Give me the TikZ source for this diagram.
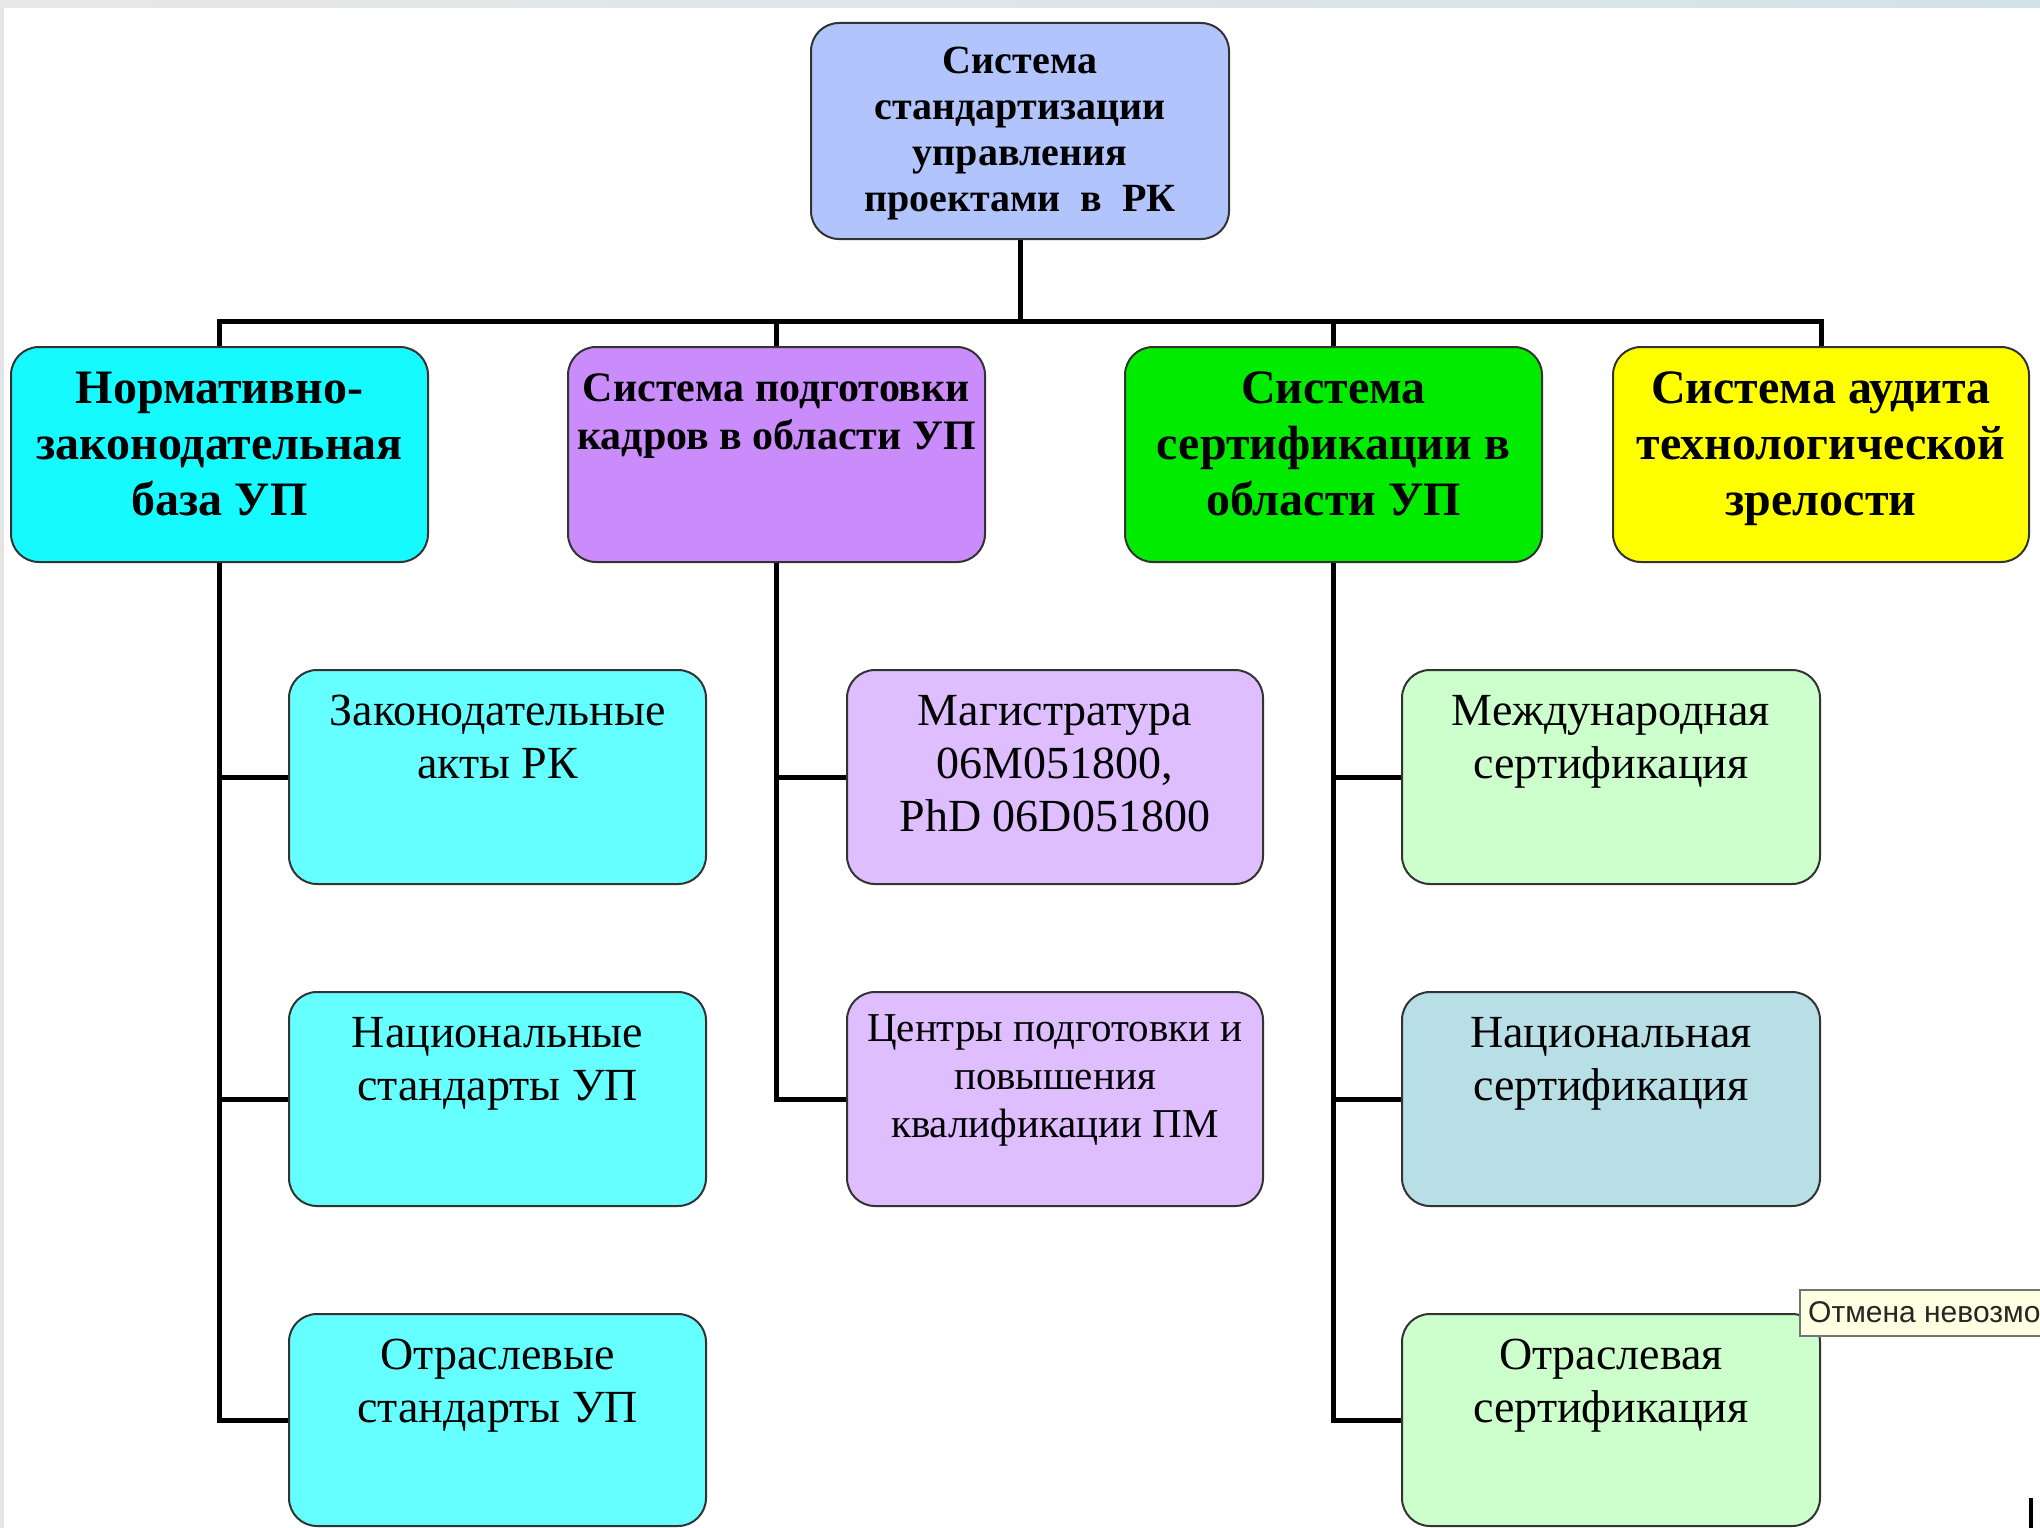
\documentclass[tikz,border=0pt]{standalone}
\usepackage{fontspec}
\setmainfont{Liberation Serif}
\newfontfamily\tipfont{Liberation Sans}
\definecolor{topc}{RGB}{178,196,252}
\definecolor{ac}{RGB}{20,250,255}
\definecolor{bc}{RGB}{202,140,250}
\definecolor{cc}{RGB}{0,235,0}
\definecolor{dc}{RGB}{255,255,0}
\definecolor{ac2}{RGB}{102,255,255}
\definecolor{bc2}{RGB}{222,190,255}
\definecolor{cc2}{RGB}{204,255,204}
\definecolor{cc3}{RGB}{185,223,230}
\definecolor{tipbg}{RGB}{255,255,225}
\definecolor{bandA}{RGB}{232,232,232}
\definecolor{bandB}{RGB}{211,227,234}
\newcommand\boxtxt[4]{\parbox[c][#2][t]{#1}{\centering\vspace*{#3}\strut#4\par}}
\tikzset{
  boxbase/.style={draw=black!80, line width=2pt, rounded corners=28pt, inner sep=0pt, anchor=north west},
  topbox/.style={boxbase, fill=topc, font=\fontsize{40}{46}\selectfont\bfseries},
  headbox/.style={boxbase, font=\fontsize{48}{56}\selectfont\bfseries},
  childbox/.style={boxbase, font=\fontsize{46}{53}\selectfont},
  conn/.style={line width=5pt, black},
  tipbox/.style={draw=black!55, line width=2pt, fill=tipbg, inner sep=0pt, anchor=north west}
}
\begin{document}
\begin{tikzpicture}[x=1pt,y=-1pt]
\useasboundingbox (0,0) rectangle (2040,1528);
\begin{scope}
\clip (0,0) rectangle (2040,1528);
\fill[white] (0,0) rectangle (2040,1528);
\shade[left color=bandA, right color=bandB] (0,0) rectangle (2040,8);
\fill[black!10] (0,8) rectangle (4,1528);

% top
\node[topbox] (T) at (810,22) {\boxtxt{418pt}{216pt}{18pt}{Система\\стандартизации\\управления\\проектами\ \ в\ \ РК}};

% level 1
\node[headbox, fill=ac] (A) at (10,346) {\boxtxt{417pt}{215pt}{17pt}{Нормативно-\\законодательная\\база УП}};
\node[boxbase, fill=bc, font=\fontsize{42}{48}\selectfont\bfseries] (B) at (567,346) {\boxtxt{417pt}{215pt}{21pt}{Система подготовки\\кадров в области УП}};
\node[headbox, fill=cc] (C) at (1124,346) {\boxtxt{417pt}{215pt}{17pt}{Система\\сертификации в\\области УП}};
\node[headbox, fill=dc] (D) at (1612,346) {\boxtxt{416pt}{215pt}{17pt}{Система аудита\\технологической\\зрелости}};

% level 2
\node[childbox, fill=ac2] (A1) at (288,669) {\boxtxt{417pt}{214pt}{18pt}{Законодательные\\акты РК}};
\node[childbox, fill=ac2] (A2) at (288,991) {\boxtxt{417pt}{214pt}{18pt}{Национальные\\стандарты УП}};
\node[childbox, fill=ac2] (A3) at (288,1313) {\boxtxt{417pt}{212pt}{18pt}{Отраслевые\\стандарты УП}};

\node[childbox, fill=bc2] (B1) at (846,669) {\boxtxt{416pt}{214pt}{18pt}{Магистратура\\06M051800,\\PhD 06D051800}};
\node[boxbase, fill=bc2, font=\fontsize{41}{48}\selectfont] (B2) at (846,991) {\boxtxt{416pt}{214pt}{16pt}{Центры подготовки и\\повышения\\квалификации ПМ}};

\node[childbox, fill=cc2] (C1) at (1401,669) {\boxtxt{418pt}{214pt}{18pt}{Международная\\сертификация}};
\node[childbox, fill=cc3] (C2) at (1401,991) {\boxtxt{418pt}{214pt}{18pt}{Национальная\\сертификация}};
\node[childbox, fill=cc2] (C3) at (1401,1313) {\boxtxt{418pt}{212pt}{18pt}{Отраслевая\\сертификация}};

% connectors
\coordinate (bus) at (0,321);
\draw[conn] (T.south) -- (T.south |- bus);
\draw[conn] (A.north) -- (A.north |- bus) -- (D.north |- bus) -- (D.north);
\draw[conn] (B.north) -- (B.north |- bus);
\draw[conn] (C.north) -- (C.north |- bus);

\draw[conn] (A.south) |- (A3.west);
\draw[conn] (A.south |- A1.west) -- (A1.west);
\draw[conn] (A.south |- A2.west) -- (A2.west);

\draw[conn] (B.south) |- (B2.west);
\draw[conn] (B.south |- B1.west) -- (B1.west);

\draw[conn] (C.south) |- (C3.west);
\draw[conn] (C.south |- C1.west) -- (C1.west);
\draw[conn] (C.south |- C2.west) -- (C2.west);

% tooltip
\node[tipbox, minimum width=260pt, minimum height=46pt] (tip) at (1799,1289) {};
\node[anchor=west, inner sep=0pt, font=\tipfont\fontsize{30}{34}\selectfont, text=black!85] (tiptext) at (1808,1312) {Отмена невозмо};

% cursor bar
\coordinate (cur1) at (2031,1498);
\coordinate (cur2) at (2031,1528);
\draw[line width=4pt, black] (cur1) -- (cur2);
\end{scope}
\end{tikzpicture}
\end{document}
